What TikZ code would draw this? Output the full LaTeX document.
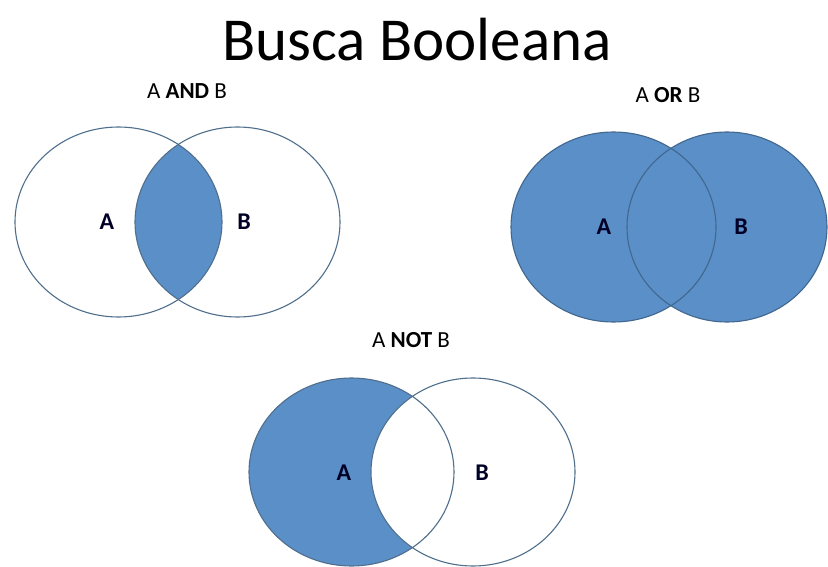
\documentclass[tikz,border=0pt]{standalone}
\usepackage{fontspec}
\setmainfont{Carlito}
\definecolor{vfill}{HTML}{5B8FC7}
\definecolor{vline}{HTML}{4F6F8C}
\definecolor{vdark}{HTML}{41678F}
\begin{document}
\begin{tikzpicture}[x=1pt,y=-1pt,
  outl/.style={draw=vline,line width=1.1pt},
  outd/.style={draw=vdark,line width=1.1pt},
  lbl/.style={font=\fontsize{23}{25}\selectfont,inner sep=0pt},
  setl/.style={font=\fontsize{24}{26}\selectfont\bfseries,inner sep=0pt,text=black!85!blue}]
\useasboundingbox[fill=white] (0,0) rectangle (828,567);
% title
\node[font=\fontsize{61}{64}\selectfont,inner sep=0pt] (title) at (417,40) {Busca Booleana};
% AND
\node[lbl] (andl) at (187,91) {A \textbf{AND} B};
\begin{scope}
  \clip (118.5,222) ellipse [x radius=103.5, y radius=95];
  \fill[vfill] (237.5,222) ellipse [x radius=102.5, y radius=95];
\end{scope}
\draw[outl] (118.5,222) ellipse [x radius=103.5, y radius=95];
\draw[outl] (237.5,222) ellipse [x radius=102.5, y radius=95];
\node[setl] (andA) at (107,222) {A};
\node[setl] (andB) at (244,222) {B};
% OR
\node[lbl] (orl) at (668,95) {A \textbf{OR} B};
\fill[vfill] (613.5,227) ellipse [x radius=102.5, y radius=95];
\fill[vfill] (727,227) ellipse [x radius=100, y radius=95];
\draw[outd] (613.5,227) ellipse [x radius=102.5, y radius=95];
\draw[outd] (727,227) ellipse [x radius=100, y radius=95];
\node[setl] (orA) at (604,227) {A};
\node[setl] (orB) at (741,227) {B};
% NOT
\node[lbl] (notl) at (411,340) {A \textbf{NOT} B};
\fill[vfill] (351.5,472) ellipse [x radius=102.5, y radius=94];
\begin{scope}
  \clip (351.5,472) ellipse [x radius=102.5, y radius=94];
  \fill[white] (473,472) ellipse [x radius=102, y radius=94];
\end{scope}
\draw[outl] (351.5,472) ellipse [x radius=102.5, y radius=94];
\draw[outl] (473,472) ellipse [x radius=102, y radius=94];
\node[setl] (notA) at (344,473) {A};
\node[setl] (notB) at (482,473) {B};
\end{tikzpicture}
\end{document}
